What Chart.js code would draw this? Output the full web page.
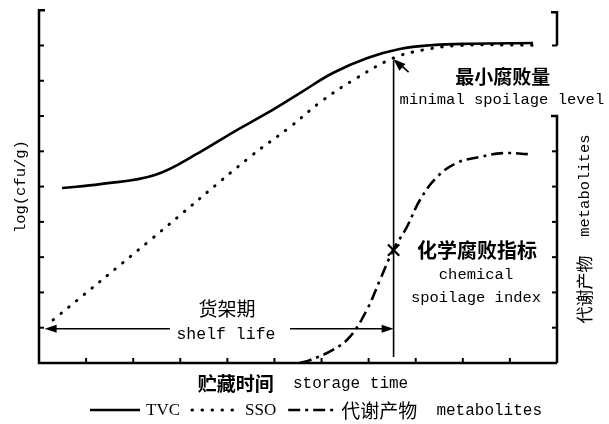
<!DOCTYPE html>
<html>
<head>
<meta charset="utf-8">
<script src="https://cdn.jsdelivr.net/npm/chart.js@4.4.0/dist/chart.umd.min.js"></script>
<style>
  html, body { margin: 0; padding: 0; background: #fff; }
  #wrap { width: 609px; height: 424px; }
</style>
</head>
<body>
<div id="wrap"><canvas id="spoilChart"></canvas></div>
<script>
// Values: x = storage time, y = log(cfu/g) units
const tvcX = [0.49, 1.30, 2.46, 3.42, 4.12, 4.84, 5.54, 6.24, 6.96, 7.66, 8.36, 9.15, 10.49];
const tvcY = [4.96, 5.07, 5.33, 5.98, 6.54, 7.08, 7.65, 8.22, 8.64, 8.90, 9.01, 9.05, 9.07];

const ssoX = [0.30, 2.36, 4.48, 5.33, 6.03, 6.75, 7.52, 8.15, 8.94, 10.49];
const ssoY = [1.22, 3.48, 5.84, 6.69, 7.45, 8.08, 8.64, 8.87, 9.00, 9.01];

const metaX = [5.54, 5.75, 6.24, 6.60, 6.96, 7.24, 7.52, 7.81, 8.09, 8.45, 8.87, 9.36, 9.85, 10.38];
const metaY = [0.00, 0.08, 0.37, 0.74, 1.50, 2.35, 3.20, 3.85, 4.62, 5.27, 5.67, 5.84, 5.95, 5.92];

// chemical spoilage index point, minimal spoilage level point
const chemIdx = [7.53, 3.20];
const minSpoil = [7.53, 8.64];
const shelfY = 0.97;

const seriesLabels = ['TVC', 'SSO', '代谢产物 metabolites'];
const xTicks = [1, 2, 3, 4, 5, 6, 7, 8, 9, 10];
const yTicksLeft = [1, 2, 3, 4, 5, 6, 7, 8, 9];
const yTicksRight = [1, 2, 3, 4, 5, 6, 9];

const MONO = '"Liberation Mono", monospace';
const CJK = '"Noto Sans CJK SC", sans-serif';
const SERIF = '"Liberation Serif", serif';

function pts(xs, ys) {
    return xs.map((x, i) => ({ x: x, y: ys[i] }));
}

function isCJK(s) {
    return /[\u3400-\u9fff]/.test(s);
}

// draw a row of [text, font] pieces, centred on cx
function mixedText(ctx, parts, cx, cy) {
    let total = 0;
    parts.forEach(p => { ctx.font = p[1]; total += ctx.measureText(p[0]).width; });
    let x = cx - total / 2;
    ctx.textAlign = 'left';
    ctx.textBaseline = 'middle';
    parts.forEach(p => {
        ctx.font = p[1];
        ctx.fillText(p[0], x, cy);
        x += ctx.measureText(p[0]).width;
    });
}

function arrowHead(ctx, x, y, angle, len, half) {
    ctx.save();
    ctx.translate(x, y);
    ctx.rotate(angle);
    ctx.beginPath();
    ctx.moveTo(0, 0);
    ctx.lineTo(-len, -half);
    ctx.lineTo(-len, half);
    ctx.closePath();
    ctx.fill();
    ctx.restore();
}

function line(ctx, x1, y1, x2, y2) {
    ctx.beginPath();
    ctx.moveTo(x1, y1);
    ctx.lineTo(x2, y2);
    ctx.stroke();
}

// Axes, brackets, annotations, titles and legend
const decor = {
    id: 'decor',
    afterDraw(chart) {
        const { ctx, chartArea: a, scales: { x, y } } = chart;
        ctx.save();
        ctx.strokeStyle = '#000';
        ctx.fillStyle = '#000';
        ctx.lineCap = 'butt';

        // left + bottom axes
        ctx.lineWidth = 2.5;
        ctx.beginPath();
        ctx.moveTo(a.left + 6, a.top);
        ctx.lineTo(a.left, a.top);
        ctx.lineTo(a.left, a.bottom);
        ctx.lineTo(a.right, a.bottom);
        ctx.stroke();

        // right axis, broken between 9 and 7
        ctx.beginPath();
        ctx.moveTo(a.right - 6, y.getPixelForValue(10) + 2);
        ctx.lineTo(a.right, y.getPixelForValue(10) + 2);
        ctx.lineTo(a.right, y.getPixelForValue(9));
        ctx.moveTo(a.right - 6, y.getPixelForValue(7));
        ctx.lineTo(a.right, y.getPixelForValue(7));
        ctx.lineTo(a.right, a.bottom);
        ctx.stroke();

        // inward tick marks
        ctx.lineWidth = 2;
        yTicksLeft.forEach(v => {
            const py = y.getPixelForValue(v);
            line(ctx, a.left, py, a.left + 5, py);
        });
        yTicksRight.forEach(v => {
            const py = y.getPixelForValue(v);
            line(ctx, a.right, py, a.right - 5, py);
        });
        xTicks.forEach(v => {
            const px = x.getPixelForValue(v);
            line(ctx, px, a.bottom, px, a.bottom - 5);
        });

        // vertical line at end of shelf life
        const vx = x.getPixelForValue(minSpoil[0]);
        const tipY = y.getPixelForValue(minSpoil[1]);
        ctx.lineWidth = 1.6;
        line(ctx, vx, tipY + 2, vx, y.getPixelForValue(0.17));

        // arrow pointing at the minimal spoilage level
        const tx = vx + 15, ty = tipY + 14;
        line(ctx, tx, ty, vx + 3, tipY + 3);
        arrowHead(ctx, vx, tipY + 1, Math.atan2(tipY - ty, vx - tx), 12, 4.5);

        // shelf life double arrow with a gap for the label
        const sy = y.getPixelForValue(shelfY);
        const sx0 = x.getPixelForValue(0.12);
        line(ctx, sx0 + 6, sy, x.getPixelForValue(2.78), sy);
        line(ctx, x.getPixelForValue(5.33), sy, vx - 6, sy);
        arrowHead(ctx, sx0, sy, Math.PI, 12, 4);
        arrowHead(ctx, vx, sy, 0, 12, 4);

        // annotation texts
        const at = (vxv, vyv) => [x.getPixelForValue(vxv), y.getPixelForValue(vyv)];
        let p = at(9.85, 8.10);
        mixedText(ctx, [['最小腐败量', 'bold 19px ' + CJK]], p[0], p[1]);
        p = at(9.83, 7.45);
        mixedText(ctx, [['minimal spoilage level', '15.5px ' + MONO]], p[0], p[1]);
        p = at(9.30, 3.20);
        mixedText(ctx, [['化学腐败指标', 'bold 20px ' + CJK]], p[0], p[1]);
        p = at(9.28, 2.49);
        mixedText(ctx, [['chemical', '15.5px ' + MONO]], p[0], p[1]);
        p = at(9.28, 1.84);
        mixedText(ctx, [['spoilage index', '15.5px ' + MONO]], p[0], p[1]);
        p = at(3.99, 1.53);
        mixedText(ctx, [['货架期', '19px ' + CJK]], p[0], p[1]);
        p = at(3.97, 0.80);
        mixedText(ctx, [['shelf life', '16.5px ' + MONO]], p[0], p[1]);

        // x title
        mixedText(ctx, [['贮藏时间', 'bold 19px ' + CJK], ['  storage time', '16px ' + MONO]],
            (a.left + a.right) / 2 + 5, a.bottom + 21);

        // left title
        ctx.save();
        ctx.translate(a.left - 18, y.getPixelForValue(5));
        ctx.rotate(-Math.PI / 2);
        mixedText(ctx, [['log(cfu/g)', '15.5px ' + MONO]], 0, 0);
        ctx.restore();

        // right title
        ctx.save();
        ctx.translate(a.right + 28, y.getPixelForValue(3.8));
        ctx.rotate(-Math.PI / 2);
        mixedText(ctx, [['代谢产物', '17px ' + CJK], ['  metabolites', '15.5px ' + MONO]], 0, 0);
        ctx.restore();

        // legend
        const ly = a.bottom + 47;
        let lx = 90;
        const gaps = [50, 47, 47];
        chart.data.datasets.slice(0, 3).forEach((ds, i) => {
            ctx.save();
            ctx.lineWidth = ds.borderWidth;
            ctx.lineCap = ds.borderCapStyle || 'butt';
            ctx.setLineDash(ds.borderDash || []);
            line(ctx, lx, ly, lx + gaps[i], ly);
            ctx.restore();
            lx += gaps[i] + 6;
            const parts = ds.label.split(' ').map((s, k) => isCJK(s)
                ? [s, '19px ' + CJK]
                : [(k > 0 ? '  ' : '') + s, i < 2 ? '17px ' + SERIF : '16px ' + MONO]);
            let w = 0;
            parts.forEach(q => { ctx.font = q[1]; w += ctx.measureText(q[0]).width; });
            mixedText(ctx, parts, lx + w / 2, ly + 1);
            lx += w + 12;
        });

        ctx.restore();
    }
};

const ctx = document.getElementById('spoilChart').getContext('2d');
const spoilChart = new Chart(ctx, {
    type: 'line',
    data: {
        datasets: [
            {
                label: seriesLabels[0],
                data: pts(tvcX, tvcY),
                borderColor: '#000',
                borderWidth: 2.6,
                pointRadius: 0,
                tension: 0.4
            },
            {
                label: seriesLabels[1],
                data: pts(ssoX, ssoY),
                borderColor: '#000',
                borderWidth: 3,
                borderDash: [0.5, 9.5],
                borderCapStyle: 'round',
                pointRadius: 0,
                tension: 0.4
            },
            {
                label: seriesLabels[2],
                data: pts(metaX, metaY),
                borderColor: '#000',
                borderWidth: 2.6,
                borderDash: [12, 5, 3, 5],
                pointRadius: 0,
                tension: 0.4
            },
            {
                label: 'index',
                data: [{ x: chemIdx[0], y: chemIdx[1] }],
                showLine: false,
                pointStyle: 'crossRot',
                pointRadius: 8,
                borderWidth: 2.2,
                borderColor: '#000'
            }
        ]
    },
    options: {
        responsive: true,
        maintainAspectRatio: false,
        animation: false,
        devicePixelRatio: 1,
        layout: { padding: { left: 39, top: 10, right: 52, bottom: 61 } },
        plugins: { legend: { display: false }, tooltip: { enabled: false } },
        scales: {
            x: { type: 'linear', min: 0, max: 11, display: false },
            y: { type: 'linear', min: 0, max: 10, display: false }
        }
    },
    plugins: [decor]
});
</script>
</body>
</html>
